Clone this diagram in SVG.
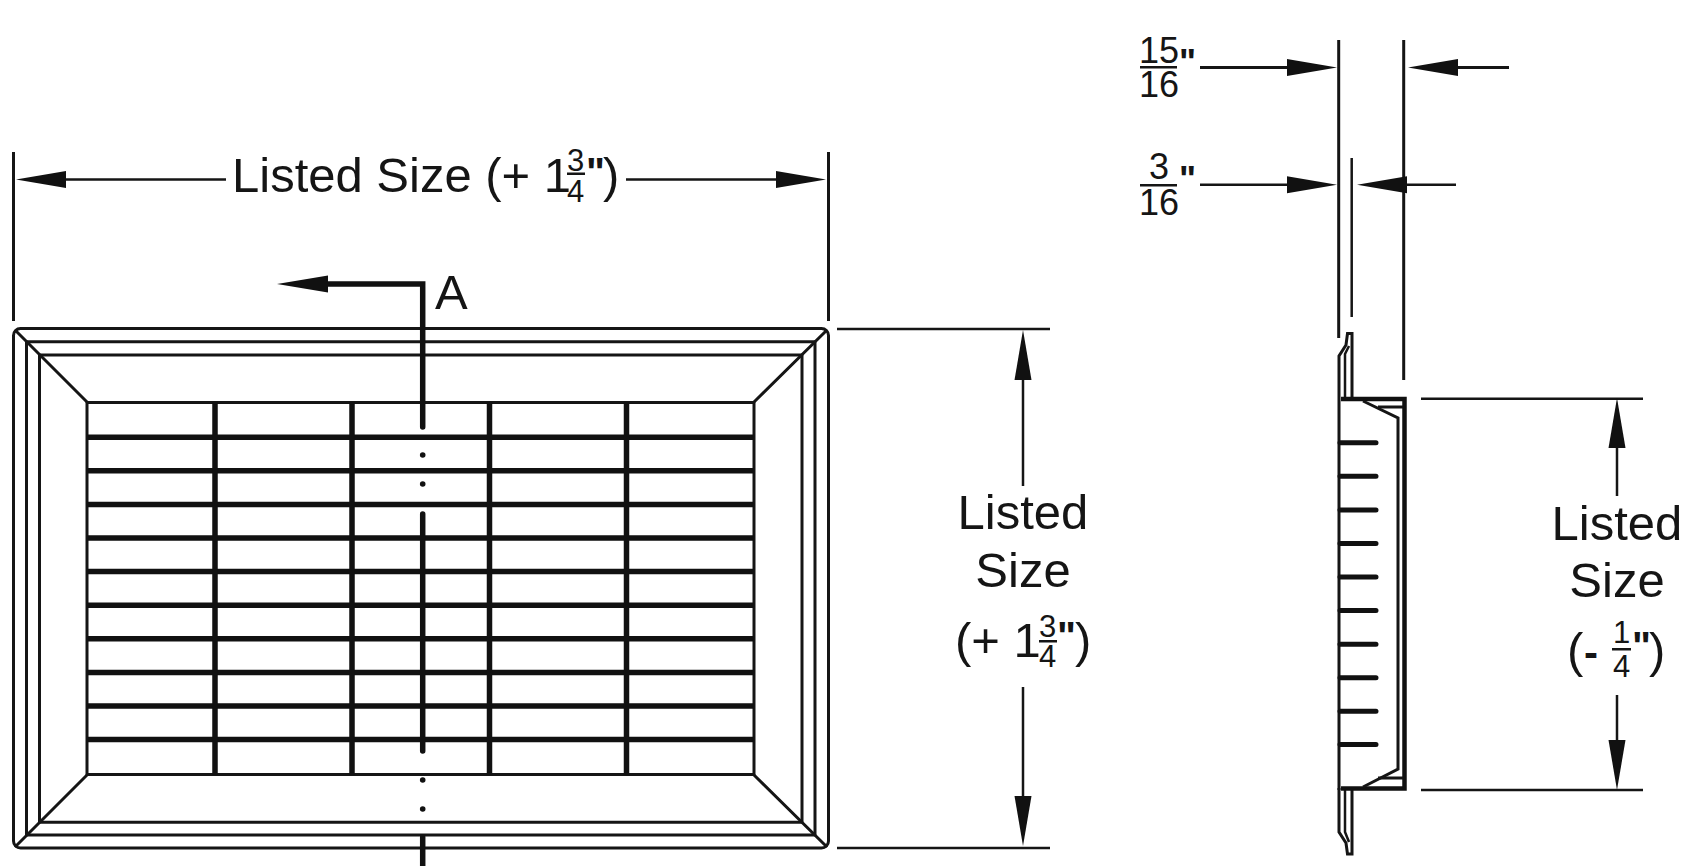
<svg xmlns="http://www.w3.org/2000/svg" width="1706" height="866" viewBox="0 0 1706 866">
<style>
text{font-family:"Liberation Sans",Arial,sans-serif;fill:#151515}
.t{font-size:49px}
.f{font-size:31px}
.n{font-size:36px}
.q{font-size:40px;font-weight:bold}
.nq{font-size:36px;font-weight:bold}
.h{font-size:42px;font-weight:bold}
.m{text-anchor:middle}
.l{fill:none;stroke:#151515;stroke-width:3}
.o{fill:none;stroke:#151515;stroke-width:3;stroke-linejoin:round}
.s{fill:none;stroke:#111;stroke-width:5.5;stroke-linecap:round}
.b{fill:none;stroke:#111;stroke-width:5.5}
.d{fill:none;stroke:#151515;stroke-width:2.5}
.a{marker-end:url(#arrow)}
.bar{fill:#151515}
</style>
<defs>
<marker id="arrow" markerUnits="userSpaceOnUse" markerWidth="54" markerHeight="20" refX="0" refY="9" orient="auto" overflow="visible">
<path d="M0 0.5 L50 9 L0 17.5 Z" fill="#111"/>
</marker>
</defs>
<rect width="1706" height="866" fill="#fff"/>

<g id="front-frame">
<rect class="o" x="13.5" y="328.5" width="815" height="519.5" rx="7"/>
<rect class="o" x="26.5" y="341.7" width="788.5" height="493.3"/>
<rect class="o" x="39.5" y="355" width="762.5" height="467.3"/>
<path class="l" d="M15 330 L87 402 M827 330 L754 402 M15 847 L87 775 M827 847 L754 775"/>
</g>
<g id="front-grille">
<rect class="l" x="87" y="402.5" width="667" height="372"/>
<path class="b" d="M87 437.3H754M87 470.8H754M87 504.4H754M87 538H754M87 571.6H754M87 605.2H754M87 638.8H754M87 672.4H754M87 706H754M87 739.5H754"/>
<path class="b" d="M215 402V775M352 402V775M489.5 402V775M626.5 402V775"/>
</g>
<g id="section-line">
<path class="s" d="M326 284H422.7V427"/>
<path d="M328 275.5L277 284L328 292.5Z" fill="#111"/>
<path class="s" d="M422.7 514V751M422.7 837V866"/>
<circle cx="422.7" cy="455" r="2.8" fill="#111"/>
<circle cx="422.7" cy="484" r="2.8" fill="#111"/>
<circle cx="422.7" cy="780" r="2.8" fill="#111"/>
<circle cx="422.7" cy="809" r="2.8" fill="#111"/>
<text class="t" x="435" y="309">A</text>
</g>

<g id="connectors">
<path class="l" d="M13.5 152V321M828.5 152V321"/>
<path class="d a" d="M226 179.5H66"/>
<path class="d a" d="M626 179.5H776"/>
<path class="d" d="M837 329H1050M837 848H1050"/>
<path class="d a" d="M1023 486V380"/>
<path class="d a" d="M1023 687V796"/>
<path class="l" d="M1338.7 40V338M1403.7 40V380"/>
<path class="d" d="M1351.7 158V317"/>
<path class="d a" d="M1200 67.5H1287" style="stroke-width:3"/>
<path class="d a" d="M1509 67.5H1458" style="stroke-width:3"/>
<path class="d a" d="M1200 184.7H1287"/>
<path class="d a" d="M1456 184.7H1407"/>
<path class="d" d="M1421 398.7H1643M1421 790H1643"/>
<path class="d a" d="M1617 496V448"/>
<path class="d a" d="M1617 695V740"/>
</g>

<g id="side-view">
<path class="l" d="M1339 398V356L1346 345L1347.5 333.5H1352V398"/>
<path class="l" style="stroke-width:2.5" d="M1345 398V354L1349 346"/>
<path class="l" d="M1339 788V832L1346 843L1347.5 854H1352V790"/>
<path class="l" style="stroke-width:2.5" d="M1345 790V832L1349 842"/>
<path class="l" d="M1339 398V790"/>
<path class="b" style="stroke-width:4.5" d="M1341 399H1404.5V788.5H1341"/>
<path class="l" d="M1363 401L1398 418V769L1363 787"/>
<path class="l" d="M1378 407H1403M1378 778H1403"/>
<path class="s" style="stroke-width:5" d="M1340 442.7H1376M1340 476.3H1376M1340 509.9H1376M1340 543.5H1376M1340 577H1376M1340 610.6H1376M1340 644.2H1376M1340 677.8H1376M1340 711.3H1376M1340 744.6H1376"/>
</g>

<g id="dim-width">
<text class="t" x="232" y="192">Listed Size (+ 1<tspan class="f" x="567" y="171">3</tspan><tspan class="f" x="567" y="202">4</tspan><tspan class="q" x="586" y="186">"</tspan><tspan x="603" y="192">)</tspan></text>
<rect class="bar" x="567" y="172.5" width="18" height="2.5"/>
</g>
<g id="dim-height">
<text class="t m" x="1023" y="529">Listed</text>
<text class="t m" x="1023" y="587">Size</text>
<text class="t" x="955" y="657">(+ 1<tspan class="f" x="1039" y="637">3</tspan><tspan class="f" x="1039" y="667">4</tspan><tspan class="q" x="1057" y="650">"</tspan><tspan x="1075" y="657">)</tspan></text>
<rect class="bar" x="1039" y="640" width="18" height="2.5"/>
</g>
<g id="dim-side-height">
<text class="t m" x="1617" y="540">Listed</text>
<text class="t m" x="1617" y="597">Size</text>
<text class="t" x="1567" y="667">(<tspan class="h" x="1584" y="667">-</tspan><tspan class="f" x="1613" y="643">1</tspan><tspan class="f" x="1613" y="677">4</tspan><tspan class="q" x="1632" y="660">"</tspan><tspan x="1649" y="667">)</tspan></text>
<rect class="bar" x="1612" y="648" width="19" height="2.5"/>
</g>
<g id="dim-depth">
<text class="n"><tspan x="1139" y="63">15</tspan><tspan x="1139" y="97">16</tspan><tspan class="nq" x="1179" y="75">"</tspan></text>
<rect class="bar" x="1140" y="66" width="37" height="2.5"/>
<text class="n"><tspan x="1149" y="179">3</tspan><tspan x="1139" y="215">16</tspan><tspan class="nq" x="1179" y="192">"</tspan></text>
<rect class="bar" x="1140" y="184" width="37" height="2.5"/>
</g>
</svg>
